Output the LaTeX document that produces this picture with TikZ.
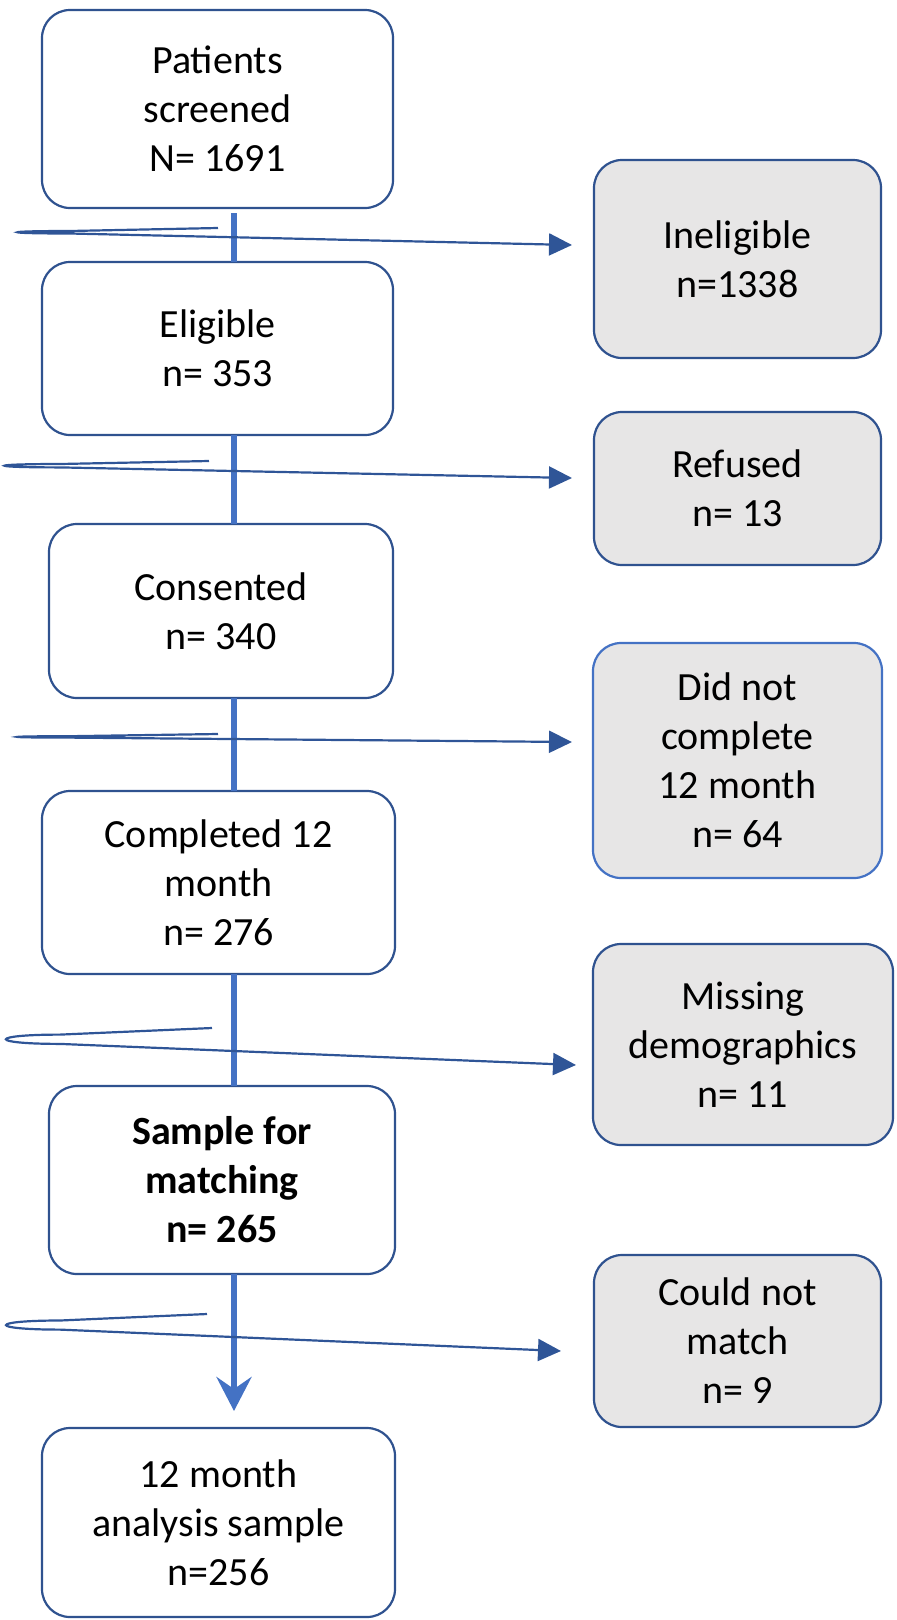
\documentclass[tikz,border=0pt]{standalone}
\usepackage{fontspec}
\setmainfont{Carlito}
\usetikzlibrary{arrows.meta}
\definecolor{bordblue}{HTML}{2F528F}
\definecolor{litblue}{HTML}{4472C4}
\definecolor{connblue}{HTML}{2F5597}
\definecolor{boxgray}{HTML}{E7E6E6}
\begin{document}
\begin{tikzpicture}[x=1pt,y=-1pt,
  flowbox/.style={draw=bordblue, line width=2.2pt, rounded corners=28pt, fill=white,
    anchor=north west, inner sep=0pt, outer sep=0pt, align=center,
    font=\fontsize{40}{49}\selectfont},
  sidebox/.style={flowbox, fill=boxgray},
  spine/.style={draw=litblue, line width=6pt},
  exitline/.style={draw=connblue, line width=2.2pt, -{Triangle[length=23pt,width=22pt]}}]
\useasboundingbox (0,0) rectangle (897,1620);

% main column
\node[flowbox, minimum width=351pt, minimum height=198pt] (b1) at (42,10) {Patients\\screened\\N= 1691};
\node[flowbox, minimum width=351pt, minimum height=173pt] (b2) at (42,262) {Eligible\\n= 353};
\node[flowbox, minimum width=344pt, minimum height=174pt] (b3) at (49,524) {Consented\\n= 340};
\node[flowbox, minimum width=353pt, minimum height=183pt] (b4) at (42,791) {Completed 12\\month\\n= 276};
\node[flowbox, minimum width=346pt, minimum height=188pt, font=\fontsize{40}{49}\selectfont\bfseries] (b5) at (49,1086) {Sample for\\matching\\n= 265};
\node[flowbox, minimum width=353pt, minimum height=189pt] (b6) at (42,1428) {12 month\\analysis sample\\n=256};

% side boxes
\node[sidebox, minimum width=287pt, minimum height=198pt] (r1) at (594,160) {Ineligible\\n=1338};
\node[sidebox, minimum width=287pt, minimum height=153pt] (r2) at (594,412) {Refused\\n= 13};
\node[sidebox, draw=litblue, minimum width=289pt, minimum height=235pt] (r3) at (593,643) {Did not\\complete\\12 month\\n= 64};
\node[sidebox, minimum width=300pt, minimum height=201pt] (r4) at (593,944) {Missing\\demographics\\n= 11};
\node[sidebox, minimum width=287pt, minimum height=172pt] (r5) at (594,1255) {Could not\\match\\n= 9};

% spine
\coordinate (sp) at (234,0);
\draw[spine, shorten <=5pt] (b1.south -| sp) -- (b2.north -| sp);
\draw[spine] (b2.south -| sp) -- (b3.north -| sp);
\draw[spine] (b3.south -| sp) -- (b4.north -| sp);
\draw[spine] (b4.south -| sp) -- (b5.north -| sp);
\draw[spine, shorten >=17pt, -{Stealth[length=34pt,width=35pt,inset=12pt]}] (b5.south -| sp) -- (b6.north -| sp);

% exit connectors
\coordinate (s1) at (218,228);  \coordinate (t1) at (572,245);
\coordinate (s2) at (209,461);  \coordinate (t2) at (572,478);
\coordinate (s3) at (218,734);  \coordinate (t3) at (572,742);
\coordinate (s4) at (212,1028); \coordinate (t4) at (576,1065);
\coordinate (s5) at (207,1314); \coordinate (t5) at (561,1351);

\draw[exitline] (s1) -- (70,231) .. controls (0,231) and (0,233.5) .. (70,233.5) -- (t1);
\draw[exitline] (s2) -- (60,464) .. controls (-14,464) and (-14,467.4) .. (60,467.4) -- (t2);
\draw[exitline] (s3) -- (70,736.2) .. controls (0,736.2) and (0,737.6) .. (70,737.6) -- (t3);
\draw[exitline] (s4) -- (60,1034.6) .. controls (-12,1034.6) and (-12,1043.9) .. (60,1043.9) -- (t4);
\draw[exitline] (s5) -- (60,1320.5) .. controls (-12,1320.5) and (-12,1329.6) .. (60,1329.6) -- (t5);
\end{tikzpicture}
\end{document}
